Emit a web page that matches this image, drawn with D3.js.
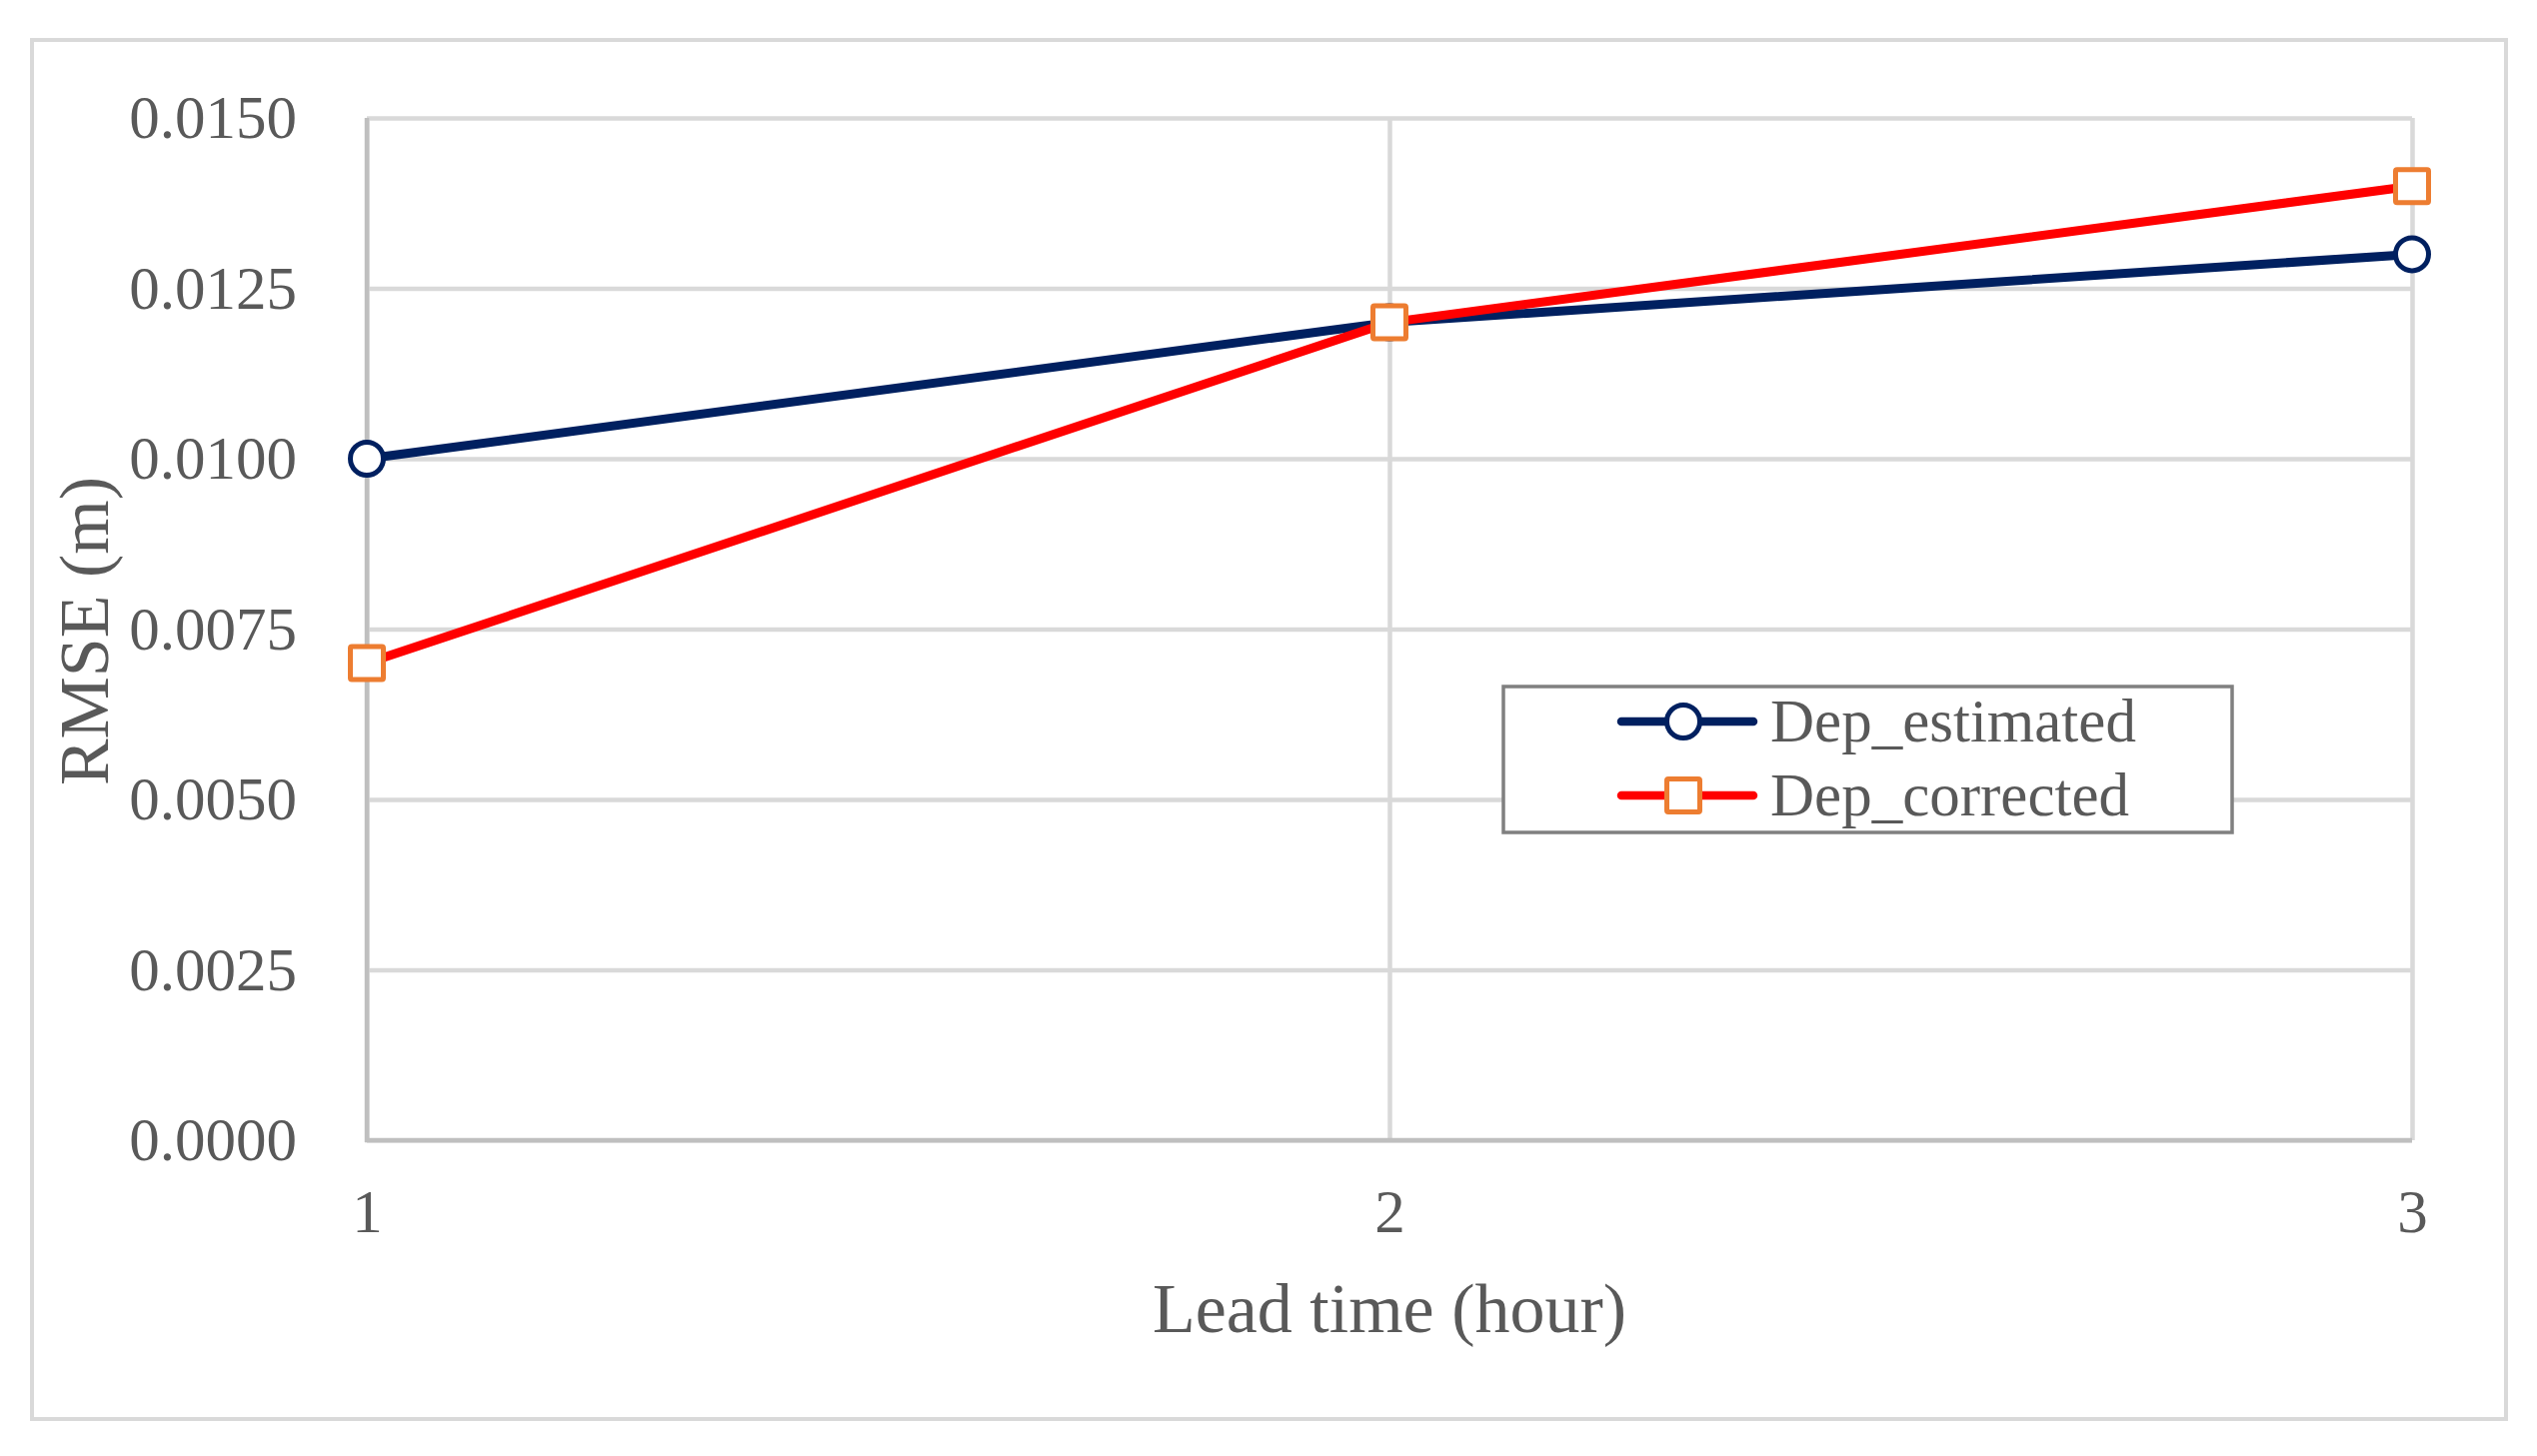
<!DOCTYPE html>
<html>
<head>
<meta charset="utf-8">
<script src="https://cdn.jsdelivr.net/npm/d3@7"></script>
<style>
  html, body { margin: 0; padding: 0; background: #ffffff; }
  svg { display: block; }
  text { font-family: "Liberation Serif", "Times New Roman", serif; fill: #595959; }
</style>
</head>
<body>
<svg id="chart" width="2538" height="1457"></svg>
<script>
// ---- data ----
const leadTimes = [1, 2, 3];
const depEstimated = [0.0100, 0.0120, 0.0130];
const depCorrected = [0.0070, 0.0120, 0.0140];
const yTickValues = [0, 0.0025, 0.0050, 0.0075, 0.0100, 0.0125, 0.0150];
const seriesNames = ["Dep_estimated", "Dep_corrected"];
const xTitle = "Lead time (hour)";
const yTitle = "RMSE (m)";

// ---- layout ----
const W = 2538, H = 1457;
const plot = { left: 367, right: 2413, top: 118, bottom: 1141 };
const svg = d3.select("#chart");

svg.append("rect").attr("x", 0).attr("y", 0).attr("width", W).attr("height", H).attr("fill", "#fff");
// outer chart border
svg.append("rect")
  .attr("x", 32).attr("y", 40).attr("width", 2507 - 32).attr("height", 1420 - 40)
  .attr("fill", "none").attr("stroke", "#d9d9d9").attr("stroke-width", 4);

const x = d3.scaleLinear().domain([1, 3]).range([plot.left, plot.right]);
const y = d3.scaleLinear().domain([0, 0.015]).range([plot.bottom, plot.top]);

// y axis with gridlines
const yAxis = svg.append("g")
  .attr("transform", `translate(${plot.left},0)`)
  .call(d3.axisLeft(y).tickValues(yTickValues).tickFormat(d3.format(".4f"))
        .tickSize(-(plot.right - plot.left)).tickPadding(70));
yAxis.select(".domain").remove();
yAxis.selectAll(".tick line").attr("stroke", "#d9d9d9").attr("stroke-width", 4.5);
yAxis.selectAll(".tick text").attr("font-size", 61).attr("fill", "#595959")
  .style("font-family", '"Liberation Serif", "Times New Roman", serif');

// x axis with gridlines
const xAxis = svg.append("g")
  .attr("transform", `translate(0,${plot.bottom})`)
  .call(d3.axisBottom(x).tickValues(leadTimes).tickFormat(d3.format("d"))
        .tickSize(-(plot.bottom - plot.top)).tickPadding(49));
xAxis.select(".domain").remove();
xAxis.selectAll(".tick line").attr("stroke", "#d9d9d9").attr("stroke-width", 4.5);
xAxis.selectAll(".tick text").attr("font-size", 61).attr("fill", "#595959")
  .style("font-family", '"Liberation Serif", "Times New Roman", serif');

// axis lines
svg.append("line").attr("x1", plot.left).attr("x2", plot.left)
  .attr("y1", plot.top).attr("y2", plot.bottom + 2)
  .attr("stroke", "#bfbfbf").attr("stroke-width", 4.5);
svg.append("line").attr("x1", plot.left - 2).attr("x2", plot.right)
  .attr("y1", plot.bottom).attr("y2", plot.bottom)
  .attr("stroke", "#bfbfbf").attr("stroke-width", 4.5);

// axis titles
svg.append("text").attr("x", (plot.left + plot.right) / 2).attr("y", 1333)
  .attr("text-anchor", "middle").attr("font-size", 70).text(xTitle);
svg.append("text").attr("transform", `translate(108,${(plot.top + plot.bottom) / 2 + 2}) rotate(-90)`)
  .attr("text-anchor", "middle").attr("font-size", 70).text(yTitle);

// series
const navy = "#002060", red = "#ff0000", orange = "#ed7d31";
const line = d3.line().x((d, i) => x(leadTimes[i])).y(d => y(d));

svg.append("path").datum(depEstimated).attr("d", line)
  .attr("fill", "none").attr("stroke", navy).attr("stroke-width", 9)
  .attr("stroke-linejoin", "round").attr("stroke-linecap", "round");
svg.selectAll(".circ").data(depEstimated).enter().append("circle")
  .attr("cx", (d, i) => x(leadTimes[i])).attr("cy", d => y(d)).attr("r", 16.5)
  .attr("fill", "#fff").attr("stroke", navy).attr("stroke-width", 5);

svg.append("path").datum(depCorrected).attr("d", line)
  .attr("fill", "none").attr("stroke", red).attr("stroke-width", 9)
  .attr("stroke-linejoin", "round").attr("stroke-linecap", "round");
svg.selectAll(".sq").data(depCorrected).enter().append("rect")
  .attr("x", (d, i) => x(leadTimes[i]) - 16.5).attr("y", d => y(d) - 16.5)
  .attr("width", 33).attr("height", 33).attr("rx", 1.5)
  .attr("fill", "#fff").attr("stroke", orange).attr("stroke-width", 5);

// legend
const lg = svg.append("g");
lg.append("rect").attr("x", 1504).attr("y", 687).attr("width", 2233 - 1504).attr("height", 833 - 687)
  .attr("fill", "#fff").attr("stroke", "#808080").attr("stroke-width", 3.5);
const rows = [
  { name: seriesNames[0], color: navy, marker: "circle", y: 722 },
  { name: seriesNames[1], color: red, marker: "square", y: 796 }
];
rows.forEach(r => {
  lg.append("line").attr("x1", 1622).attr("x2", 1754).attr("y1", r.y).attr("y2", r.y)
    .attr("stroke", r.color).attr("stroke-width", 8.5).attr("stroke-linecap", "round");
  if (r.marker === "circle") {
    lg.append("circle").attr("cx", 1684).attr("cy", r.y).attr("r", 16.5)
      .attr("fill", "#fff").attr("stroke", navy).attr("stroke-width", 5);
  } else {
    lg.append("rect").attr("x", 1684 - 16.5).attr("y", r.y - 16.5).attr("width", 33).attr("height", 33)
      .attr("rx", 1.5).attr("fill", "#fff").attr("stroke", orange).attr("stroke-width", 5);
  }
  lg.append("text").attr("x", 1771).attr("y", r.y + 20).attr("font-size", 61).text(r.name);
});
</script>
</body>
</html>
